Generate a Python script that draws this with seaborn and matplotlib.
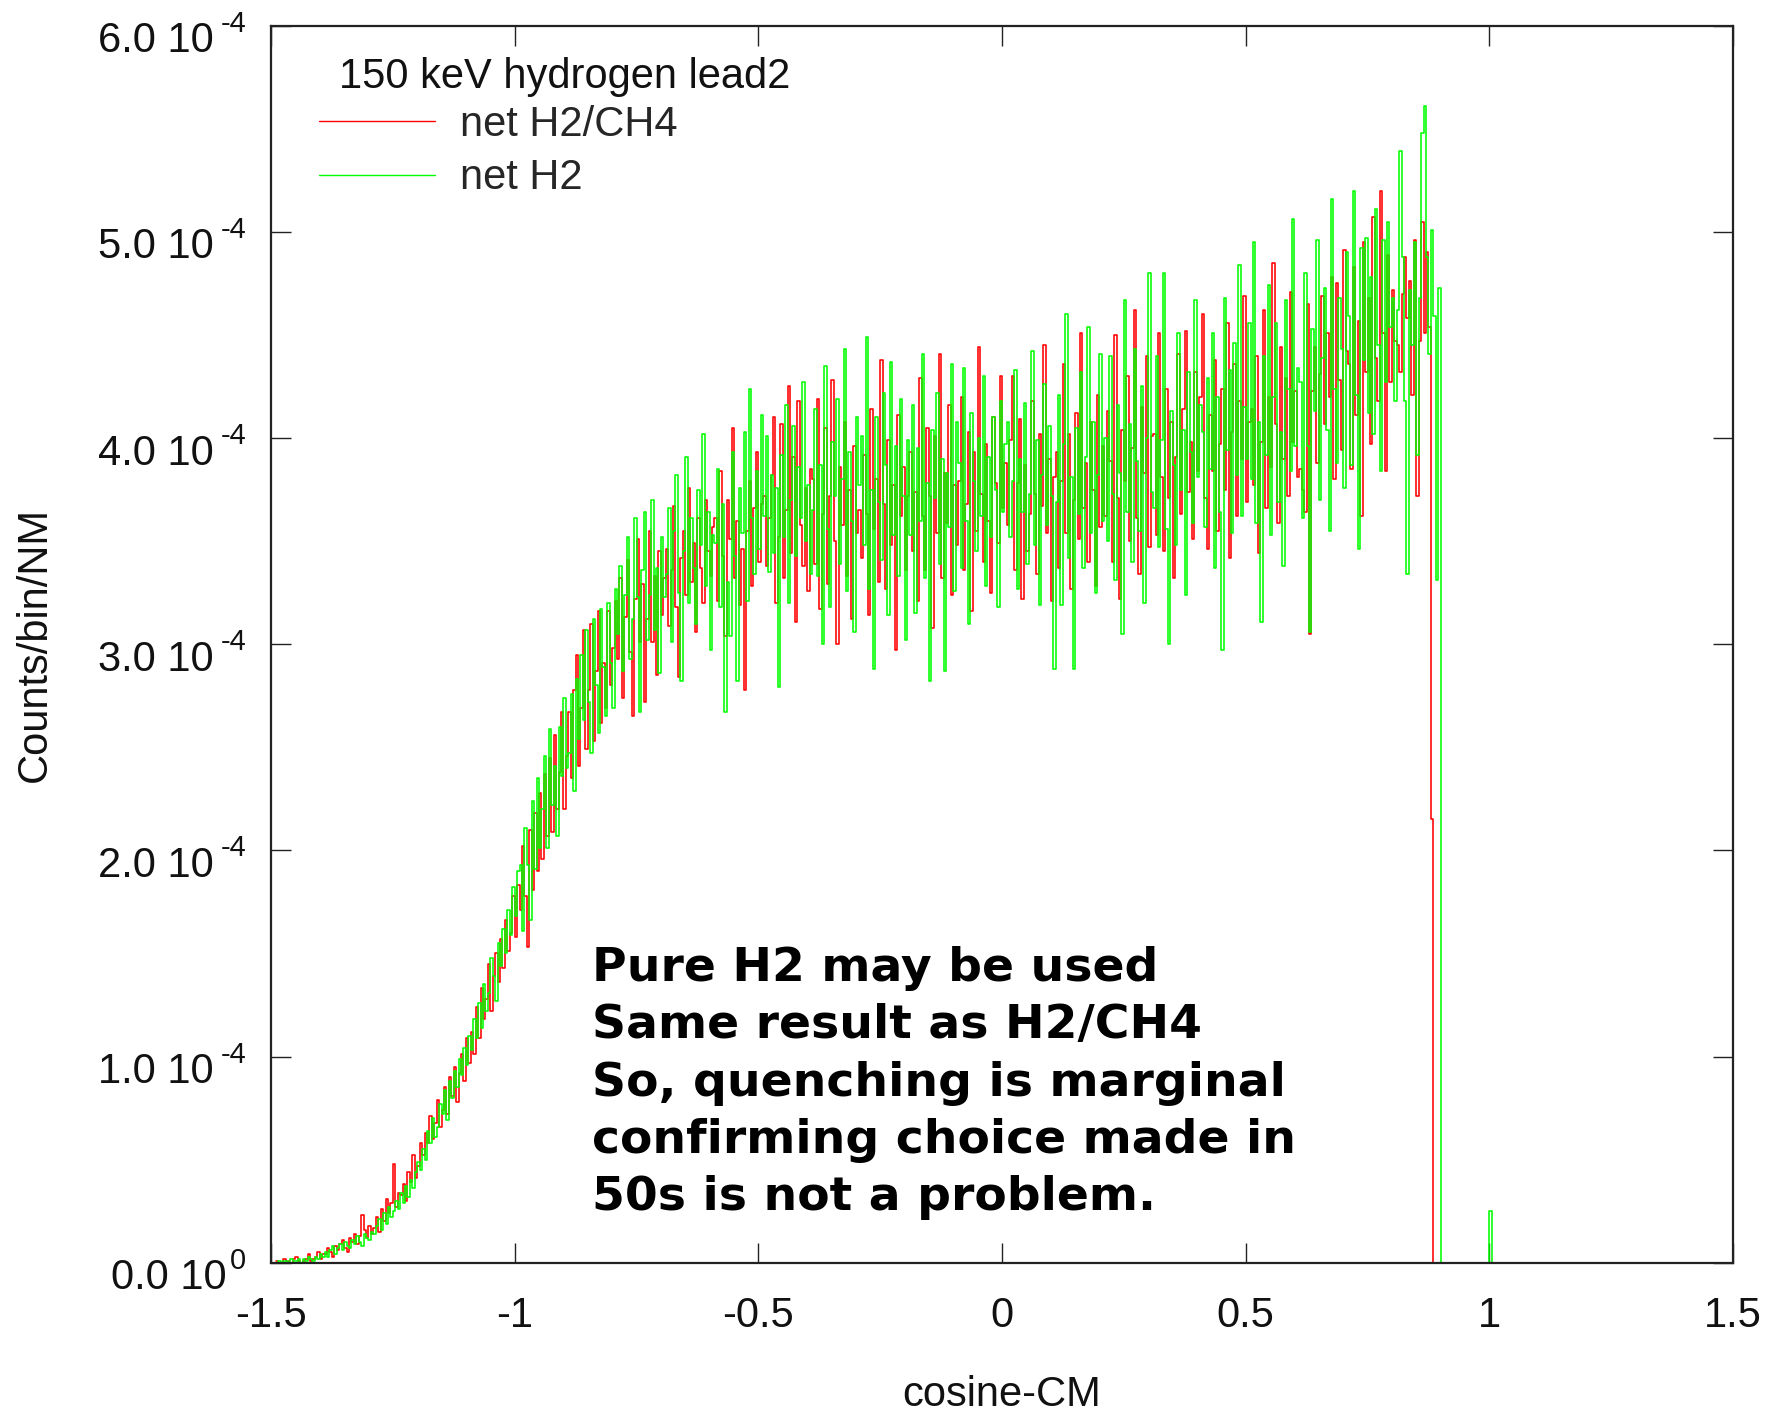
import numpy as np
import pandas as pd
import matplotlib
matplotlib.use("Agg")
import matplotlib.pyplot as plt
import seaborn as sns
from matplotlib.ticker import FixedLocator, FixedFormatter
from matplotlib.transforms import blended_transform_factory, ScaledTranslation

# histogram binning of cosine-CM
BIN_START = -1.49
BIN_WIDTH = 0.005
N_BINS = 502
UNIT = 1e-6  # counts/bin/NM per listed unit

# net H2/CH4, one value per bin starting at BIN_START (20 bins per 0.1 in cosine)
h2ch4 = [
    1, 0, 0, 2, 1, 1, 0, 2, 3, 1, 0, 1, 2, 4, 1, 2, 3, 5, 2, 4,
    4, 7, 5, 3, 8, 6, 9, 11, 7, 5, 12, 10, 14, 9, 13, 23, 16, 12, 18, 14,
    17, 22, 15, 26, 20, 31, 24, 29, 48, 27, 34, 33, 38, 30, 44, 39, 52, 41, 47, 58,
    52, 63, 58, 71, 60, 68, 79, 66, 74, 85, 72, 90, 81, 95, 78, 92, 101, 88, 109, 97,
    112, 101, 124, 109, 133, 118, 128, 145, 122, 139, 150, 136, 157, 143, 166, 151, 160, 178, 158, 183,
    171, 202, 178, 153, 210, 181, 218, 190, 228, 196, 237, 207, 245, 209, 256, 220, 238, 267, 220, 246,
    267, 235, 278, 295, 241, 269, 307, 249, 278, 310, 253, 287, 316, 262, 291, 269, 316, 280, 298, 321,
    293, 332, 274, 313, 341, 296, 265, 322, 351, 301, 329, 272, 312, 355, 301, 333, 285, 345, 314, 332,
    346, 309, 336, 367, 318, 284, 342, 355, 324, 376, 330, 349, 306, 361, 337, 320, 370, 345, 333, 357,
    361, 321, 384, 343, 304, 370, 351, 405, 332, 360, 319, 346, 278, 355, 379, 328, 366, 393, 340, 368,
    372, 338, 361, 382, 410, 320, 352, 407, 332, 365, 425, 344, 391, 311, 418, 358, 338, 376, 326, 385,
    380, 339, 419, 317, 363, 405, 329, 372, 428, 350, 300, 386, 358, 408, 333, 375, 312, 396, 354, 365,
    342, 392, 363, 314, 414, 356, 380, 330, 438, 368, 327, 399, 348, 377, 297, 411, 362, 386, 336, 372,
    393, 345, 374, 321, 429, 362, 336, 405, 372, 308, 401, 354, 441, 332, 383, 359, 416, 324, 377, 348,
    379, 420, 336, 368, 403, 316, 393, 355, 444, 373, 340, 397, 360, 325, 410, 378, 349, 430, 366, 388,
    358, 399, 430, 336, 378, 409, 322, 387, 345, 363, 418, 373, 334, 402, 367, 445, 354, 390, 321, 381,
    393, 337, 379, 436, 354, 402, 327, 370, 412, 351, 451, 366, 388, 340, 408, 375, 328, 421, 357, 396,
    362, 413, 389, 340, 450, 371, 322, 404, 379, 430, 350, 395, 462, 361, 334, 415, 383, 440, 347, 401,
    402, 353, 451, 381, 345, 424, 371, 408, 332, 391, 441, 363, 414, 452, 374, 398, 351, 432, 384, 420,
    460, 371, 346, 411, 384, 438, 355, 397, 424, 375, 456, 342, 403, 436, 362, 418, 390, 469, 369, 408,
    414, 377, 440, 344, 398, 462, 366, 420, 386, 485, 407, 359, 444, 390, 429, 372, 471, 398, 423, 381,
    385, 375, 364, 465, 305, 423, 444, 388, 431, 469, 407, 451, 420, 478, 380, 475, 428, 394, 491, 442,
    436, 385, 483, 411, 457, 362, 495, 432, 468, 397, 507, 439, 418, 520, 451, 384, 489, 427, 472, 447,
    445, 432, 470, 488, 458, 476, 421, 496, 372, 447, 505, 451, 490, 454, 215,
]

# net H2, one value per bin starting at BIN_START (20 bins per 0.1 in cosine)
h2 = [
    0, 1, 0, 1, 1, 0, 2, 1, 1, 2, 0, 2, 1, 3, 2, 1, 3, 2, 4, 3,
    5, 3, 6, 8, 4, 7, 9, 6, 10, 8, 7, 11, 9, 13, 10, 8, 14, 12, 11, 15,
    14, 18, 21, 16, 24, 19, 27, 22, 25, 30, 26, 34, 29, 37, 32, 40, 36, 44, 49, 45,
    55, 50, 64, 58, 70, 61, 66, 77, 72, 84, 69, 88, 80, 93, 85, 99, 91, 104, 96, 110,
    103, 118, 109, 126, 114, 135, 122, 131, 148, 139, 127, 155, 144, 162, 150, 171, 159, 182, 168, 190,
    193, 161, 211, 193, 166, 224, 191, 235, 201, 220, 246, 201, 259, 222, 241, 207, 260, 236, 274, 240,
    247, 276, 229, 283, 254, 295, 263, 307, 272, 247, 312, 280, 257, 317, 289, 265, 320, 291, 269, 327,
    305, 338, 287, 324, 352, 293, 312, 361, 323, 267, 336, 364, 302, 324, 370, 307, 337, 286, 352, 323,
    334, 366, 301, 355, 382, 325, 282, 345, 391, 320, 361, 337, 310, 375, 348, 402, 328, 364, 297, 353,
    349, 385, 318, 368, 267, 330, 304, 393, 343, 282, 376, 354, 403, 321, 424, 361, 334, 384, 346, 411,
    362, 401, 335, 382, 344, 376, 279, 392, 352, 416, 320, 370, 406, 343, 386, 361, 427, 350, 377, 334,
    365, 414, 333, 387, 300, 435, 356, 318, 398, 372, 419, 339, 380, 443, 326, 393, 360, 306, 410, 377,
    401, 348, 449, 327, 375, 288, 410, 369, 341, 422, 387, 314, 437, 353, 396, 333, 419, 372, 302, 399,
    353, 416, 315, 395, 360, 441, 332, 378, 282, 404, 371, 422, 339, 390, 287, 383, 357, 436, 326, 408,
    388, 337, 434, 360, 310, 412, 379, 345, 400, 362, 430, 328, 391, 352, 410, 375, 318, 418, 364, 397,
    408, 352, 379, 433, 327, 390, 364, 417, 339, 373, 442, 348, 399, 319, 382, 426, 358, 406, 372, 288,
    369, 421, 319, 397, 460, 342, 381, 288, 405, 363, 432, 337, 391, 454, 354, 408, 325, 382, 441, 360,
    400, 350, 440, 373, 331, 416, 383, 305, 467, 364, 407, 340, 443, 389, 355, 425, 320, 400, 480, 374,
    366, 440, 347, 399, 480, 356, 300, 413, 387, 348, 451, 375, 404, 324, 432, 393, 359, 467, 381, 416,
    403, 357, 429, 385, 451, 337, 420, 364, 297, 468, 394, 433, 354, 446, 382, 484, 362, 415, 390, 456,
    380, 495, 359, 408, 311, 440, 392, 474, 353, 420, 456, 369, 403, 338, 467, 424, 384, 506, 396, 434,
    427, 361, 480, 396, 306, 453, 413, 496, 370, 439, 473, 404, 355, 516, 424, 388, 468, 443, 376, 490,
    459, 387, 520, 421, 346, 492, 438, 497, 412, 478, 402, 511, 445, 384, 496, 427, 505, 454, 468, 418,
    462, 539, 488, 418, 334, 472, 445, 495, 392, 468, 548, 561, 488, 441, 501, 459, 331, 473,
]

# isolated net H2 entry near cosine = 1
h2_extra_x = [1.0025]
h2_extra_val = [25]

series_names = ["net H2/CH4", "net H2"]
legend_title = "150 keV hydrogen lead2"
note = ("Pure H2 may be used\n"
        "Same result as H2/CH4\n"
        "So, quenching is marginal\n"
        "confirming choice made in\n"
        "50s is not a problem.")

x_ticks = [-1.5, -1.0, -0.5, 0.0, 0.5, 1.0, 1.5]
x_tick_labels = ["-1.5", "-1", "-0.5", "0", "0.5", "1", "1.5"]
y_ticks = [0.0, 1e-4, 2e-4, 3e-4, 4e-4, 5e-4, 6e-4]
y_tick_mant = ["0.0 10", "1.0 10", "2.0 10", "3.0 10", "4.0 10", "5.0 10", "6.0 10"]
y_tick_exp = ["0", "-4", "-4", "-4", "-4", "-4", "-4"]

sns.set_style("ticks")
plt.rcParams["font.family"] = ["Liberation Sans", "DejaVu Sans"]
plt.rcParams["axes.unicode_minus"] = False

W, H, DPI = 1773, 1412, 100
fig = plt.figure(figsize=(W / DPI, H / DPI), dpi=DPI)
ax = fig.add_axes([271 / W, 1 - 1262.7 / H, (1733 - 271) / W, (1262.7 - 25.7) / H])

edges = BIN_START + BIN_WIDTH * np.arange(N_BINS + 1)
centers = 0.5 * (edges[:-1] + edges[1:])
red_vals = np.zeros(N_BINS)
red_vals[:len(h2ch4)] = np.array(h2ch4) * UNIT
green_vals = np.zeros(N_BINS)
green_vals[:len(h2)] = np.array(h2) * UNIT
green_vals[np.searchsorted(edges, h2_extra_x) - 1] = np.array(h2_extra_val) * UNIT

df = pd.DataFrame({"cos": centers, "h2ch4": red_vals, "h2": green_vals})
bin_edges = edges.tolist()

sns.histplot(data=df, x="cos", weights="h2ch4", bins=bin_edges, element="step",
             fill=False, color="#ff0000", linewidth=1.15, ax=ax)
sns.histplot(data=df, x="cos", weights="h2", bins=bin_edges, element="step",
             fill=False, color="#00ff00", linewidth=1.15, ax=ax)

ax.set_xlim(-1.5, 1.5)
ax.set_ylim(0, 6e-4)

ax.xaxis.set_major_locator(FixedLocator(x_ticks))
ax.xaxis.set_major_formatter(FixedFormatter(x_tick_labels))
ax.yaxis.set_major_locator(FixedLocator(y_ticks))
ax.yaxis.set_major_formatter(FixedFormatter(y_tick_mant))
ax.tick_params(direction="in", length=14.4, width=1.0, color="#222222",
               top=True, right=True, labelsize=30, labelcolor="#111111")
ax.tick_params(axis="x", pad=24)
ax.tick_params(axis="y", pad=41.5)

# mantissa labels sit a little below their tick; the short "0" exponent
# lets the bottom mantissa move right
for lab, ex in zip(ax.get_yticklabels(), y_tick_exp):
    dx = 13 / DPI if len(ex) == 1 else 0
    lab.set_transform(lab.get_transform() +
                      ScaledTranslation(dx, -11 / DPI, fig.dpi_scale_trans))

ytrans = blended_transform_factory(ax.transAxes, ax.transData) + \
    ScaledTranslation(-25 / DPI, 2 / DPI, fig.dpi_scale_trans)
for yv, ex in zip(y_ticks, y_tick_exp):
    ax.text(0, yv, ex, transform=ytrans, ha="right", va="center",
            fontsize=21, color="#111111")

for s in ax.spines.values():
    s.set_linewidth(1.6)
    s.set_color("#222222")

ax.set_xlabel("cosine-CM", fontsize=30, labelpad=28, color="#111111")
ax.set_ylabel("Counts/bin/NM", fontsize=30, color="#111111")
ax.yaxis.set_label_coords(-0.148, 0.5)

leg = ax.legend(handles=[ax.lines[0], ax.lines[1]], labels=series_names,
                loc="upper left", bbox_to_anchor=(319 / W, 1 - 105 / H),
                bbox_transform=fig.transFigure, frameon=False, fontsize=30,
                handlelength=2.78, handletextpad=0.6, labelspacing=0.32,
                borderpad=0, borderaxespad=0)
for hl in leg.get_lines():
    hl.set_linewidth(1.0)
fig.text(339 / W, 1 - 77 / H, legend_title, ha="left", va="center",
         fontsize=30, color="#111111")

ax.text(-0.842, 1.536e-4, note, ha="left", va="top", fontsize=34,
        fontweight="bold", family="DejaVu Sans", linespacing=1.35, color="black")

fig.savefig("out.png", dpi=DPI)
